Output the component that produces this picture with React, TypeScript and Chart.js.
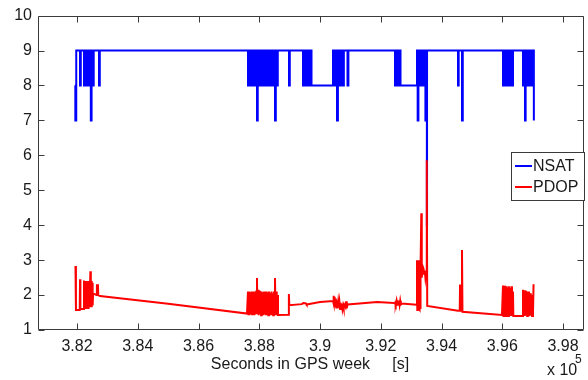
import React, { useEffect, useRef } from 'react';
import { Chart, registerables } from 'chart.js';

Chart.register(...registerables);

const X_MIN = 380716;
const X_MAX = 398691;
const Y_MIN = 1;
const Y_MAX = 10;
const xTicks = [382000, 384000, 386000, 388000, 390000, 392000, 394000, 396000, 398000];
const yTicks = [1, 2, 3, 4, 5, 6, 7, 8, 9, 10];
const seriesNames = ['NSAT', 'PDOP'];
const seriesColors = ['#0000ff', '#ff0000'];
const xTitle = 'Seconds in GPS week     [s]';
const xExponent = '5';

const nsatTime = [
  381930, 381945, 381975, 382099, 382125, 382230, 382255, 382296, 382330, 382350,
  382385, 382405, 382440, 382455, 382480, 382490, 382515, 382530, 382550, 382724,
  382750, 387629, 387660, 387690, 387720, 387750, 387780, 387810, 387840, 387870,
  387900, 387925, 387950, 387980, 388010, 388040, 388070, 388100, 388130, 388160,
  388190, 388220, 388250, 388280, 388310, 388340, 388370, 388400, 388430, 388460,
  388490, 388518, 388545, 388575, 388610, 388979, 389005, 389440, 389475, 389510,
  389545, 389580, 389615, 389650, 389685, 389720, 390428, 390460, 390495, 390530,
  390560, 390590, 390625, 390660, 390695, 390730, 390757, 390785, 390905, 390935,
  392469, 392500, 392530, 392560, 392590, 392620, 392650, 393193, 393215, 393240,
  393270, 393300, 393330, 393360, 393390, 393420, 393450, 393470, 393495, 393518,
  393524, 394543, 394565, 394674, 394700, 396024, 396055, 396085, 396115, 396145,
  396175, 396205, 396235, 396265, 396295, 396325, 396353, 396682, 396710, 396748,
  396770, 396800, 396830, 396860, 396890, 396920, 396950, 396980, 397011, 397040,
];
const nsatValue = [
  8, 7, 9, 8, 9, 8, 9, 8, 9, 8,
  9, 8, 9, 7, 9, 8, 9, 8, 9, 8,
  9, 8, 9, 8, 9, 8, 9, 8, 9, 8,
  9, 7, 9, 8, 9, 8, 9, 8, 9, 8,
  9, 8, 9, 8, 9, 8, 9, 8, 9, 8,
  9, 7, 9, 8, 9, 8, 9, 8, 9, 8,
  9, 8, 9, 8, 9, 8, 9, 8, 9, 8,
  7, 9, 8, 9, 8, 9, 8, 9, 8, 9,
  8, 9, 8, 9, 8, 9, 8, 9, 7, 9,
  8, 9, 8, 9, 8, 9, 8, 7, 9, 4,
  9, 8, 9, 7, 9, 8, 9, 8, 9, 8,
  9, 8, 9, 8, 9, 8, 9, 8, 9, 7,
  9, 8, 9, 8, 9, 8, 9, 8, 9, 7,
];

const pdopTime = [
  381950, 381965, 382090, 382100, 382112, 382220, 382230, 382242, 382296, 382310,
  382330, 382345, 382365, 382380, 382400, 382415, 382440, 382455, 382470, 382485,
  382500, 382515, 382530, 382640, 382655, 382690, 382700, 382757, 385000, 387596,
  387629, 387645, 387660, 387680, 387700, 387720, 387740, 387760, 387780, 387800,
  387820, 387840, 387860, 387880, 387905, 387925, 387940, 387960, 387980, 388000,
  388020, 388040, 388060, 388080, 388100, 388120, 388140, 388160, 388180, 388200,
  388220, 388240, 388260, 388280, 388300, 388320, 388340, 388360, 388380, 388400,
  388420, 388440, 388460, 388480, 388500, 388518, 388535, 388555, 388575, 388600,
  388617, 388960, 388975, 388990, 389400, 389450, 389540, 389560, 390000, 390428,
  390440, 390460, 390480, 390500, 390520, 390540, 390560, 390580, 390600, 390620,
  390640, 390660, 390680, 390700, 390720, 390740, 390760, 390780, 390800, 390840,
  390860, 390880, 390905, 391300, 391876, 392300, 392469, 392480, 392500, 392520,
  392540, 392560, 392580, 392600, 392620, 392640, 392660, 392699, 393180, 393193,
  393203, 393213, 393223, 393233, 393243, 393253, 393263, 393273, 393283, 393293,
  393303, 393315, 393335, 393350, 393370, 393390, 393410, 393430, 393450, 393470,
  393490, 393510, 393520, 393530,
  394543, 394600, 394610, 394625, 394660, 394674, 394690, 395991, 396024, 396040,
  396055, 396070, 396085, 396100, 396115, 396130, 396145, 396160, 396180, 396200,
  396220, 396240, 396260, 396280, 396300, 396320, 396353, 396365, 396670, 396682,
  396700, 396720, 396740, 396760, 396780, 396800, 396820, 396840, 396860, 396880,
  396900, 396920, 396940, 396960, 396980, 397011, 397030,
];
const pdopValue = [
  2.83, 1.57, 1.57, 2.45, 1.6, 1.6, 2.42, 1.6, 2.4, 1.6,
  2.35, 1.62, 2.4, 1.6, 2.3, 1.65, 2.68, 1.65, 2.4, 1.65,
  2.35, 1.7, 2.05, 2.0, 2.28, 2.28, 2.0, 1.97, 1.75, 1.47,
  2.1, 1.45, 2.1, 1.42, 2.08, 1.45, 2.1, 1.42, 2.05, 1.45,
  2.1, 1.42, 2.1, 1.45, 2.1, 2.49, 1.45, 2.15, 1.42, 2.12,
  1.45, 2.1, 1.42, 2.1, 1.45, 2.08, 1.42, 2.1, 1.45, 2.05,
  1.42, 2.1, 1.45, 2.08, 1.42, 2.1, 1.45, 2.05, 1.42, 2.1,
  1.45, 2.05, 1.42, 2.1, 1.45, 2.49, 1.45, 2.1, 1.42, 2.0,
  1.43, 1.44, 2.03, 1.71, 1.74, 1.77, 1.76, 1.73, 1.8, 1.83,
  1.98, 1.75, 1.95, 1.68, 1.9, 1.62, 1.85, 1.62, 1.8, 1.65,
  1.8, 1.6, 1.78, 1.62, 1.75, 1.6, 1.7, 1.62, 1.72, 1.65,
  1.82, 1.62, 1.73, 1.76, 1.8, 1.78, 1.77, 1.84, 1.72, 1.84,
  1.72, 1.85, 1.72, 1.84, 1.72, 1.84, 1.73, 1.76, 1.72, 3.0,
  1.57, 3.0, 1.6, 2.95, 1.58, 3.0, 1.6, 2.9, 1.58, 2.95,
  1.6, 2.7, 4.34, 2.5, 2.7, 2.8, 2.75, 2.6, 2.7, 2.5,
  2.65, 2.7, 5.86, 1.69,
  1.55, 1.55, 2.3, 1.6, 1.55, 3.29, 1.52, 1.43, 2.27, 1.4,
  2.25, 1.4, 2.27, 1.42, 2.2, 1.4, 2.25, 1.4, 2.22, 1.4,
  2.25, 1.42, 2.2, 1.4, 2.25, 1.4, 2.1, 1.4, 1.4, 2.15,
  1.4, 2.14, 1.4, 2.12, 1.42, 2.1, 1.4, 2.1, 1.42, 2.1,
  1.4, 2.05, 1.42, 2.0, 1.4, 1.42, 2.31,
];

const FONT = 'Arial, "Liberation Sans", Helvetica, sans-serif';
const TEXT_COLOR = '#1a1a1a';
const AXIS_COLOR = '#3a3a3a';

export default function App() {
  const ref = useRef<HTMLCanvasElement>(null);

  useEffect(() => {
    document.body.style.margin = '0';
    const canvas = ref.current;
    if (!canvas) return;

    const framePlugin = {
      id: 'matlabFrame',
      afterDraw(chart: any) {
        const { ctx, chartArea: a } = chart;
        const xs = chart.scales.x;
        const ys = chart.scales.y;
        ctx.save();
        ctx.strokeStyle = AXIS_COLOR;
        ctx.lineWidth = 1;
        const L = Math.round(a.left) + 0.5;
        const R = Math.round(a.right) - 0.5;
        const T = Math.round(a.top) + 0.5;
        const B = Math.round(a.bottom) - 0.5;
        ctx.beginPath();
        ctx.rect(L, T, R - L, B - T);
        const tl = 6;
        xTicks.forEach((v) => {
          const px = Math.round(xs.getPixelForValue(v)) + 0.5;
          ctx.moveTo(px, B);
          ctx.lineTo(px, B - tl);
          ctx.moveTo(px, T);
          ctx.lineTo(px, T + tl);
        });
        yTicks.forEach((v) => {
          const py = Math.round(ys.getPixelForValue(v)) + 0.5;
          ctx.moveTo(L, py);
          ctx.lineTo(L + tl, py);
          ctx.moveTo(R, py);
          ctx.lineTo(R - tl, py);
        });
        ctx.stroke();

        // legend
        const lx = 511.5, ly = 152.5, lw = 73, lh = 48;
        ctx.fillStyle = '#ffffff';
        ctx.fillRect(lx, ly, lw, lh);
        ctx.strokeStyle = AXIS_COLOR;
        ctx.strokeRect(lx, ly, lw, lh);
        ctx.font = '16px ' + FONT;
        ctx.textBaseline = 'middle';
        ctx.textAlign = 'left';
        seriesNames.forEach((name, i) => {
          const yy = 166 + i * 21;
          ctx.strokeStyle = seriesColors[i];
          ctx.lineWidth = 2;
          ctx.beginPath();
          ctx.moveTo(515, yy);
          ctx.lineTo(532, yy);
          ctx.stroke();
          ctx.fillStyle = TEXT_COLOR;
          ctx.fillText(name, 533, yy + 1);
        });

        // x title
        ctx.fillStyle = TEXT_COLOR;
        ctx.font = '16px ' + FONT;
        ctx.textAlign = 'center';
        ctx.fillText(xTitle, 310, 365);
        // exponent
        ctx.textAlign = 'left';
        ctx.fillText('x 10', 547, 371);
        ctx.font = '12px ' + FONT;
        ctx.fillText(xExponent, 575, 360);
        ctx.restore();
      },
    };

    const chart = new Chart(canvas, {
      type: 'line',
      data: {
        datasets: [
          {
            label: seriesNames[0],
            data: nsatTime.map((t, i) => ({ x: t, y: nsatValue[i] })),
            borderColor: seriesColors[0],
            backgroundColor: seriesColors[0],
            borderWidth: 2,
            pointRadius: 0,
            stepped: 'before',
            fill: false,
            order: 1,
          },
          {
            label: seriesNames[1],
            data: pdopTime.map((t, i) => ({ x: t, y: pdopValue[i] })),
            borderColor: seriesColors[1],
            backgroundColor: seriesColors[1],
            borderWidth: 2,
            pointRadius: 0,
            tension: 0,
            fill: false,
            order: 0,
          },
        ],
      },
      plugins: [framePlugin],
      options: {
        animation: false,
        responsive: false,
        maintainAspectRatio: false,
        layout: { padding: { left: 0, right: 4, top: 15, bottom: 0 } },
        plugins: {
          legend: { display: false },
          tooltip: { enabled: false },
        },
        scales: {
          x: {
            type: 'linear',
            min: X_MIN,
            max: X_MAX,
            afterBuildTicks: (scale: any) => {
              scale.ticks = xTicks.map((v) => ({ value: v }));
            },
            afterFit: (scale: any) => {
              scale.height = 50;
            },
            grid: { display: false, drawTicks: false },
            border: { display: false },
            ticks: {
              autoSkip: false,
              maxRotation: 0,
              padding: 7,
              color: TEXT_COLOR,
              font: { size: 16, family: FONT },
              callback: (v: any) => String(parseFloat((Number(v) / 1e5).toFixed(2))),
            },
          },
          y: {
            type: 'linear',
            min: Y_MIN,
            max: Y_MAX,
            afterBuildTicks: (scale: any) => {
              scale.ticks = yTicks.map((v) => ({ value: v }));
            },
            afterFit: (scale: any) => {
              scale.width = 38;
            },
            grid: { display: false, drawTicks: false },
            border: { display: false },
            ticks: {
              padding: 6,
              color: TEXT_COLOR,
              font: { size: 16, family: FONT },
              callback: (v: any) => String(v),
            },
          },
        },
      },
    });
    return () => chart.destroy();
  }, []);

  return (
    <div style={{ width: 588, height: 380 }}>
      <canvas ref={ref} width={588} height={380} style={{ display: 'block', width: 588, height: 380 }} />
    </div>
  );
}
